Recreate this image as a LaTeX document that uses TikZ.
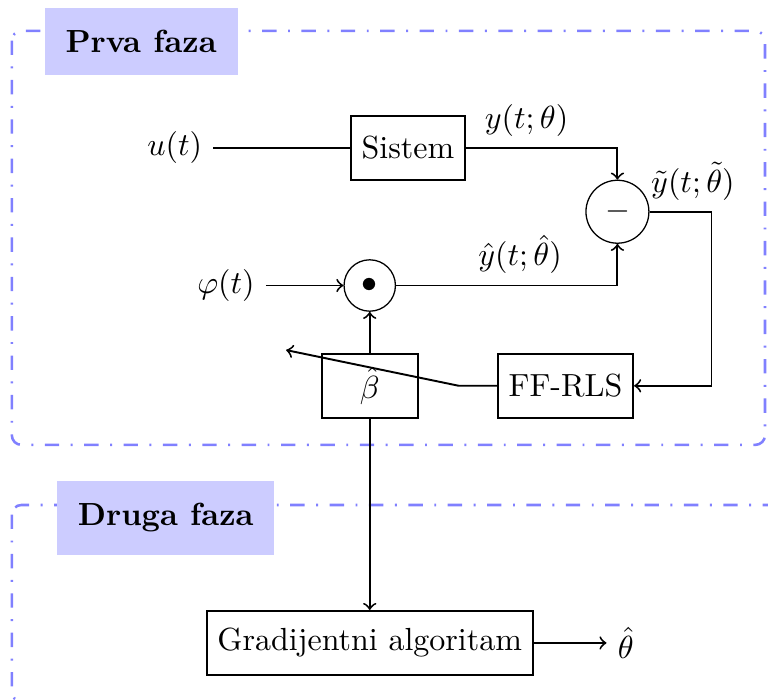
\documentclass[tikz,border=0pt]{standalone}
\usepackage{amsmath}
\usepackage{tikz}
\usetikzlibrary{positioning, calc}
\tikzset{blok/.style={rectangle,draw,semithick,minimum height=2em,minimum width=3em},
	krug/.style={circle,draw,thin},
	faza/.style={rectangle,fill=blue!20,font=\bfseries,inner xsep=6.5pt,inner ysep=7pt},
	okvir/.style={draw=blue!50,thick,rounded corners=3pt,dash pattern=on 4.5pt off 3.6pt on 0.6pt off 3.6pt},
	veza/.style={semithick} }

\begin{document}
\begin{tikzpicture}[>=to]
  \clip (-4.48,1.625) rectangle (3.953,-6.061);

  % okviri za obje faze
  \draw [okvir] (-4.35,1.285) rectangle (3.92,-3.26);
  \draw [okvir] (-4.35,-3.92) rectangle (4.3,-6.078);
  \node (prva) [faza] at (-2.93,1.17) {Prva faza};
  \node (druga) [faza] at (-2.66,-4.06) {Druga faza};

  \node (sistem) [blok] at (0,0) {Sistem};
  \node (u) [left=1.5cm of sistem] {$u(t)$};
  \node (sum) [krug] at (2.30,-0.70) {$-$};
  \node (dot) [krug] at (-0.42,-1.51) {$\bullet$};
  \node (phi) [left=0.85cm of dot] {$\varphi(t)$};
  \node (beta) [blok, below=0.45cm of dot] {$\hat{\beta}$};
  \node (rls) [blok, right=0.86cm of beta] {FF-RLS};
  \node (grad) [blok, below=2.1cm of beta] {Gradijentni algoritam};
  \node (theta) [right=0.8cm of grad] {$\hat{\theta}$};

  \coordinate (desno) at ($(sum.east)+(0.68,0)$);
  \coordinate (lom) at ($(rls.west)+(-0.42,0)$);
  \coordinate (kraj) at ($(beta.north west)+(-0.38,0.03)$);

  \draw [veza] (u) -- (sistem);
  \draw [veza,->] (sistem) -| node [pos=0.2, above] {$y(t;\theta)$} (sum);
  \draw [veza,->] (phi) -- (dot);
  \draw [veza,->] (dot) -| node [pos=0.28, above] {$\hat{y}(t;\hat{\theta})$} (sum);
  \draw [veza,->] (sum) -- node [pos=0.7, above] {$\tilde{y}(t;\tilde{\theta})$} (desno) |- (rls);
  \draw [veza,->] (rls) -- (lom) -- (kraj); % ide preko bloka beta
  \draw [veza,->] (beta) -- (dot);
  \draw [veza,->] (beta) -- (grad);
  \draw [veza,->] (grad) -- (theta);
\end{tikzpicture}
\end{document}
